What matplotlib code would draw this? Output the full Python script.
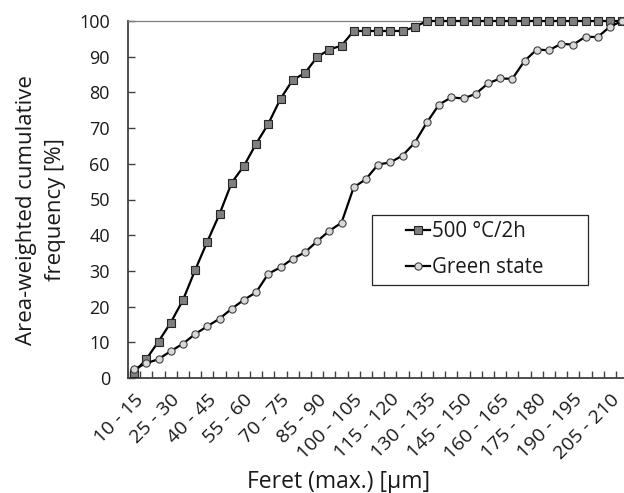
import matplotlib
matplotlib.use("Agg")
import matplotlib.pyplot as plt
from matplotlib.patches import Rectangle
import numpy as np

plt.rcParams['font.family'] = ['Open Sans', 'DejaVu Sans']

categories = [f"{a} - {a + 5}" for a in range(10, 215, 5)]  # 41 bins: 10-15 ... 210-215

sintered_500 = [1.5, 5.3, 10.2, 15.5, 21.8, 30.2, 38.2, 45.9, 54.7, 59.4,
                65.6, 71.2, 78.2, 83.5, 85.4, 89.9, 92.0, 93.1, 97.2, 97.2,
                97.2, 97.2, 97.2, 98.3, 100, 100, 100, 100, 100, 100,
                100, 100, 100, 100, 100, 100, 100, 100, 100, 100, 100]
green_state = [2.5, 4.1, 5.3, 7.5, 9.6, 12.3, 14.5, 16.6, 19.4, 21.9,
               24.0, 29.2, 31.0, 33.4, 35.2, 38.3, 41.2, 43.5, 53.4, 55.7,
               59.8, 60.4, 62.3, 65.9, 71.6, 76.6, 78.6, 78.3, 79.6, 82.5,
               83.9, 83.8, 88.8, 92.0, 91.8, 93.6, 93.4, 95.6, 95.5, 98.4, 100]
series_labels = ["500 °C/2h", "Green state"]
y_ticks = list(range(0, 101, 10))

TXT = '#1a1a1a'
W, H = 624, 493
fig = plt.figure(figsize=(W / 100, H / 100), dpi=100)
cat_w = 12.2
n_ext = 42
ax = fig.add_axes([128 / W, (H - 378) / H, n_ext * cat_w / W, 357 / H])

x = np.arange(len(categories))
ax.plot(x, sintered_500, color='black', lw=1.6, marker='s', ms=5.4,
        mfc='#7f7f7f', mec='#262626', mew=0.8, clip_on=False, zorder=3,
        label=series_labels[0])
ax.plot(x, green_state, color='black', lw=1.6, marker='o', ms=5.2,
        mfc='#d9d9d9', mec='#404040', mew=0.8, clip_on=False, zorder=4,
        label=series_labels[1])

ax.set_xlim(-0.5, n_ext - 0.5)
ax.set_ylim(0, 100)
ax.set_yticks(y_ticks)
ax.tick_params(axis='y', direction='in', length=4.7, width=1.0, color='#404040',
               labelsize=13, pad=13, labelcolor=TXT)

ax.set_xticks(x[::3])
ax.set_xticklabels([categories[i] for i in range(0, len(categories), 3)],
                   rotation=45, ha='right', rotation_mode='anchor', fontsize=14,
                   color=TXT)
ax.tick_params(axis='x', which='major', length=0, pad=9)
ax.set_xticks(np.arange(-0.5, n_ext, 1), minor=True)
ax.tick_params(axis='x', which='minor', direction='in', length=5, width=1.0, color='#404040')

for s in ['left', 'bottom']:
    ax.spines[s].set_color('#404040')
    ax.spines[s].set_linewidth(1.3)
for s in ['top', 'right']:
    ax.spines[s].set_color('#7f7f7f')
    ax.spines[s].set_linewidth(0.9)

fig.text(339 / W, 1 - 482 / H, "Feret (max.) [µm]", ha='center', va='center',
         fontsize=16.5, color=TXT)
fig.text(41 / W, 1 - 210 / H, "Area-weighted cumulative\nfrequency [%]", ha='center',
         va='center', rotation=90, fontsize=16, color=TXT,
         multialignment='center', linespacing=1.45)

# legend box
fig.patches.append(Rectangle((372 / W, 1 - 284.5 / H), 216 / W, 70 / H,
                             transform=fig.transFigure, fill=False,
                             edgecolor='#262626', lw=0.9))
leg = ax.legend(loc='upper left', bbox_to_anchor=(406 / W, 1 - 221 / H),
                bbox_transform=fig.transFigure, frameon=False, fontsize=14.8,
                handlelength=1.15, handletextpad=0.12, labelspacing=0.72,
                borderpad=0, borderaxespad=0)
for t in leg.get_texts():
    t.set_color(TXT)

fig.savefig("out.png", dpi=100)
